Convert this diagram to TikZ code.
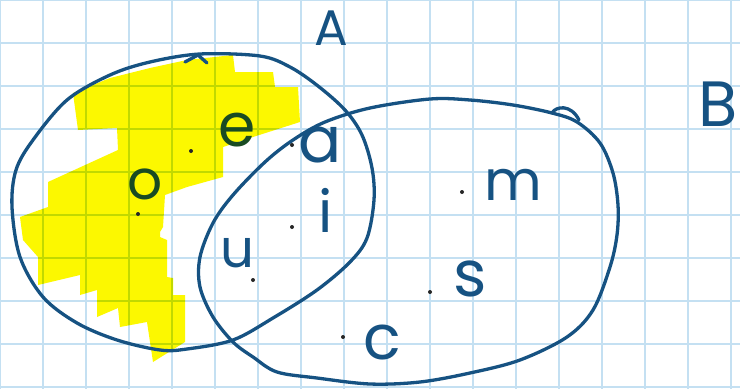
\documentclass[tikz,border=0pt]{standalone}
\usepackage{fontspec}
\setmainfont{Poppins}
\definecolor{ink}{RGB}{22,82,130}
\definecolor{inkgreen}{RGB}{25,75,35}
\definecolor{gridblue}{RGB}{196,224,242}
\definecolor{hilite}{RGB}{252,248,0}
\tikzset{
  inkline/.style={draw=ink, line width=3.3pt, line cap=round, line join=round},
  elemdot/.style={circle, fill=black!85, inner sep=0pt, minimum size=4pt},
  letter/.style={text=ink, inner sep=0pt},
  gridline/.style={draw=gridblue, line width=1.4pt}
}
\begin{document}
\begin{tikzpicture}[x=1pt,y=-1pt]
\useasboundingbox (0,0) rectangle (740,389);
\clip (0,0) rectangle (740,389);
\fill[white] (0,0) rectangle (740,389);
% grid paper
\foreach \i in {0,...,17} {\draw[gridline] (\i*43,0) -- (\i*43,389);}
\foreach \j in {0,...,9} {\draw[gridline] (0,\j*43) -- (740,\j*43);}
% highlighter
\begin{scope}[blend mode=multiply]
\fill[hilite] (73,93) -- (110,78) -- (150,68) -- (187,60) -- (233,55) -- (235,72) -- (273,72) -- (275,87) -- (298,87) -- (300,122) -- (253,137) -- (223,147) -- (223,177) -- (187,187) -- (165,195) -- (163,227) -- (160,232) -- (160,237) -- (167,240) -- (167,277) -- (173,278) -- (173,295) -- (185,295) -- (185,342) -- (153,362) -- (147,322) -- (120,327) -- (118,308) -- (97,317) -- (97,290) -- (80,295) -- (80,275) -- (38,285) -- (38,257) -- (23,240) -- (20,217) -- (48,207) -- (48,182) -- (118,150) -- (117,128) -- (78,130) -- cycle;
\end{scope}
% set A
\draw[inkline] plot[smooth cycle, tension=0.55] coordinates {(12,207) (16,170) (33,140) (67,100) (110,75) (150,62) (200,54) (260,56) (290,67) (318,86) (345,110) (362,135) (372,168) (374,200) (367,238) (350,262) (317,290) (273,318) (233,340) (187,349) (160,350) (117,340) (77,323) (43,297) (20,257)};
\draw[inkline] (185,62) -- (198,55) -- (207,63);
% set B
\draw[inkline] plot[smooth cycle, tension=0.55] coordinates {(200,257) (213,223) (233,195) (265,162) (293,140) (325,122) (370,108) (430,99) (470,100) (513,105) (552,113) (577,122) (600,143) (613,173) (618,205) (617,235) (610,267) (593,310) (567,337) (520,360) (470,373) (420,382) (370,384) (317,378) (277,372) (253,357) (233,342) (213,317) (200,287)};
\draw[inkline] (552,113) .. controls (556,106) and (571,104) .. (579,120);
% set names
\node[letter, font=\fontsize{50}{50}\selectfont] (lA) at (331,28) {A};
\node[letter, font=\fontsize{64}{64}\selectfont, anchor=east] (lB) at (738,104) {B};
% elements
\node[letter, text=inkgreen, font=\fontsize{60}{60}\selectfont] (le) at (237,130) {e};
\node[elemdot] (de) at (191,151) {};
\node[letter, text=inkgreen, font=\fontsize{55}{55}\selectfont] (lo) at (145,184) {o};
\node[elemdot] (do) at (138,214) {};
\node[letter, font=\fontsize{64}{64}\selectfont] (la) at (320,145) {a};
\node[elemdot] (da) at (292,145) {};
\node[letter, font=\fontsize{58}{58}\selectfont, anchor=base] (li) at (326,232) {i};
\node[elemdot] (di) at (292,227) {};
\node[letter, font=\fontsize{53}{53}\selectfont] (lu) at (237,253) {u};
\node[elemdot] (du) at (253,280) {};
\node[letter, font=\fontsize{56}{56}\selectfont] (lm) at (513,185) {m};
\node[elemdot] (dm) at (462,192) {};
\node[letter, font=\fontsize{64}{64}\selectfont] (ls) at (470,279) {s};
\node[elemdot] (ds) at (430,292) {};
\node[letter, font=\fontsize{62}{62}\selectfont] (lc) at (382,343) {c};
\node[elemdot] (dc) at (343,337) {};
\end{tikzpicture}
\end{document}
